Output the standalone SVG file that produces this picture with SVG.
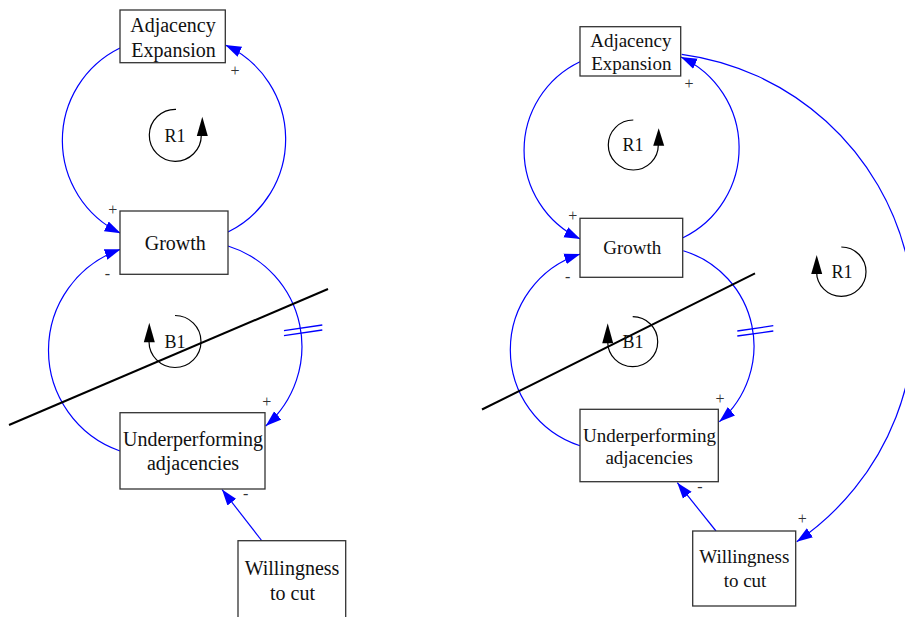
<svg xmlns="http://www.w3.org/2000/svg" width="905" height="617" viewBox="0 0 905 617">
<style>
.box{fill:#fff;stroke:#333;stroke-width:1.3}
.t{font-family:'Liberation Serif','Times New Roman',Times,'DejaVu Serif',serif;fill:#111;text-anchor:middle}
.tl{font-size:20px}
.tr{font-size:19px}
.lp{font-family:'Liberation Serif','Times New Roman',Times,'DejaVu Serif',serif;font-size:18px;fill:#111;text-anchor:middle}
.pol{font-family:'Liberation Serif','Times New Roman',Times,'DejaVu Serif',serif;font-size:16px;fill:#333;text-anchor:middle}
.lk{fill:none;stroke:#0000ff;stroke-width:1.2;marker-end:url(#ah)}
.dl{stroke:#0000ff;stroke-width:1.3}
.cut{stroke:#000;stroke-width:2}
.loop{fill:none;stroke:#000;stroke-width:1.2}
.la{fill:#000}
</style>
<defs>
<marker id="ah" markerUnits="userSpaceOnUse" markerWidth="17" markerHeight="12" viewBox="0 0 17 12" refX="16" refY="6" orient="auto"><path d="M0,0.5 L16,6 L0,11.5 z" fill="#0000ff"/></marker>
</defs>

<g id="connectors">
<path class="lk" d="M120,48 A103,103 0 0 0 120.7,233.3"/>
<path class="lk" d="M228,232 A103.6,103.6 0 0 0 225.3,45"/>
<path class="lk" d="M228,246 A105.3,105.3 0 0 1 265.7,426"/>
<path class="lk" d="M120,451 A106.7,106.7 0 0 1 120.7,249.3"/>
<path class="lk" d="M262,541 L222,489.5"/>
<line class="dl" x1="284" y1="330.7" x2="322.3" y2="325"/>
<line class="dl" x1="284" y1="335.7" x2="322.3" y2="330"/>
<path class="lk" d="M580,61.7 A98.1,98.1 0 0 0 580.3,239"/>
<path class="lk" d="M683,237.7 A100,100 0 0 0 680.9,57"/>
<path class="lk" d="M683.3,250.7 A99.7,99.7 0 0 1 719.3,421.7"/>
<path class="lk" d="M580,445.7 A100.7,100.7 0 0 1 580.3,254"/>
<path class="lk" d="M681.7,54.3 A268,268 0 0 1 796.7,541.7"/>
<path class="lk" d="M716,531 L677.3,482.7"/>
<line class="dl" x1="737.3" y1="331" x2="773.3" y2="325.7"/>
<line class="dl" x1="737.3" y1="336" x2="773.3" y2="331"/>
</g>

<g id="cut-lines">
<line class="cut" x1="9" y1="425" x2="328" y2="289"/>
<line class="cut" x1="482" y1="409.5" x2="755" y2="273.3"/>
</g>

<g id="loop-markers">
<path class="loop" d="M176,109.3 A26,26 0 1 0 201.3,135.3"/>
<polygon class="la" points="202.3,116.7 196.8,136 207.8,136"/>
<text class="lp" x="175" y="142">R1</text>
<path class="loop" d="M175,315.5 A26,26 0 1 1 149,341.5"/>
<polygon class="la" points="149.3,322.7 143.8,342.3 154.8,342.3"/>
<text class="lp" x="175" y="348">B1</text>
<path class="loop" d="M633.3,120 A25,25 0 1 0 658.3,145"/>
<polygon class="la" points="658.7,128.3 653.2,145.7 664.2,145.7"/>
<text class="lp" x="633" y="151">R1</text>
<path class="loop" d="M841.3,247 A24.7,24.7 0 1 1 816.6,271.7"/>
<polygon class="la" points="816.7,255 811.2,274 822.2,274"/>
<text class="lp" x="842" y="278">R1</text>
<path class="loop" d="M632.7,316.7 A25,25 0 1 1 607.7,341.7"/>
<polygon class="la" points="607.7,323.3 602.2,343.3 613.2,343.3"/>
<text class="lp" x="633" y="348">B1</text>
</g>

<g id="polarities">
<text class="pol" x="235" y="76">+</text>
<text class="pol" x="112.7" y="214.5">+</text>
<text class="pol" x="107.3" y="279">-</text>
<text class="pol" x="266.7" y="407">+</text>
<text class="pol" x="245.7" y="499">-</text>
<text class="pol" x="689" y="89">+</text>
<text class="pol" x="572.7" y="221">+</text>
<text class="pol" x="567.7" y="281.5">-</text>
<text class="pol" x="720" y="404">+</text>
<text class="pol" x="700" y="491.5">-</text>
<text class="pol" x="802.3" y="523.5">+</text>
</g>

<g id="L-adjacency-expansion">
<rect class="box" x="120" y="10" width="105.3" height="52.7"/>
<text class="t tl" x="173" y="32">Adjacency</text>
<text class="t tl" x="173.5" y="57">Expansion</text>
</g>
<g id="L-growth">
<rect class="box" x="120" y="211" width="108" height="63.3"/>
<text class="t tl" x="175.3" y="250">Growth</text>
</g>
<g id="L-underperforming">
<rect class="box" x="120" y="412.7" width="145" height="76.3"/>
<text class="t tl" x="193" y="445.7">Underperforming</text>
<text class="t tl" x="193" y="470">adjacencies</text>
</g>
<g id="L-willingness">
<rect class="box" x="238" y="540.7" width="107.7" height="82"/>
<text class="t tl" x="292" y="575">Willingness</text>
<text class="t tl" x="292.5" y="600">to cut</text>
</g>

<g id="R-adjacency-expansion">
<rect class="box" x="580" y="26.7" width="100.7" height="49.3"/>
<text class="t tr" x="630.8" y="46.7">Adjacency</text>
<text class="t tr" x="631.3" y="70">Expansion</text>
</g>
<g id="R-growth">
<rect class="box" x="580" y="218.3" width="102.7" height="59"/>
<text class="t tr" x="632.3" y="254">Growth</text>
</g>
<g id="R-underperforming">
<rect class="box" x="580" y="409.3" width="138.3" height="72.4"/>
<text class="t tr" x="649.5" y="441.7">Underperforming</text>
<text class="t tr" x="649.2" y="464.3">adjacencies</text>
</g>
<g id="R-willingness">
<rect class="box" x="692.7" y="531" width="103" height="75"/>
<text class="t tr" x="744.3" y="562.7">Willingness</text>
<text class="t tr" x="745" y="586.7">to cut</text>
</g>
</svg>
